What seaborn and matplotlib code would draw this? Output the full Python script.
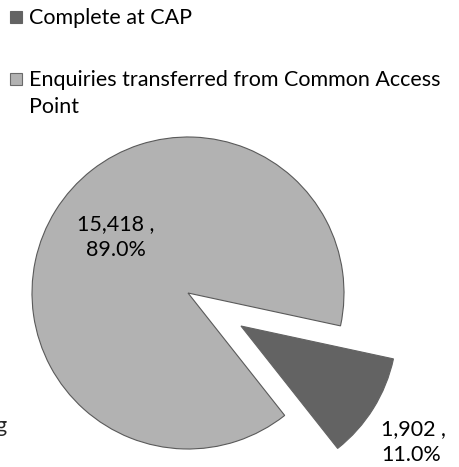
import matplotlib
matplotlib.use("Agg")
import matplotlib.pyplot as plt
from matplotlib.patches import Rectangle
import seaborn as sns

categories = ["Complete at CAP", "Enquiries transferred from Common Access\nPoint"]
counts = [1902, 15418]
shares = [11.0, 89.0]
colors = ["#636363", "#b2b2b2"]

sns.set_theme(style="white")
plt.rcParams['font.family'] = ['Lato', 'DejaVu Sans']

W, H = 459, 467
FS = 15.5
fig = plt.figure(figsize=(W / 100, H / 100), dpi=100)
# pie box in pixels: x 32..344, y 137..449 (from top)
ax = fig.add_axes([32 / W, (H - 449) / H, 312 / W, 312 / H])

wedges, _ = ax.pie(counts, colors=colors, startangle=-51.7, explode=[0.4, 0],
                   wedgeprops=dict(linewidth=0.8, edgecolor="#5a5a5a"))
wedges[0].set_edgecolor(colors[0])
for w in wedges:
    w.set_clip_on(False)
ax.set_xlim(-1, 1)
ax.set_ylim(-1, 1)
ax.set_axis_off()

lab = [f"{c:,} ,\n{s:.1f}%" for c, s in zip(counts, shares)]
ax.text(-0.465, 0.36, lab[1], ha="center", va="center", fontsize=FS,
        linespacing=1.37, color="black")
ax.text(1.237, -0.81, lab[0], ha="left", va="top", fontsize=FS,
        linespacing=1.37, color="black")

# legend drawn by hand: square on the first line, wrapped text below
def px(x, y):
    return x / W, (H - y) / H

for i, (name, col) in enumerate(zip(categories, colors)):
    top = 11 + 62 * i
    x0, y0 = px(10, top + 12)
    edge = col if i == 0 else "#6a6a6a"
    fig.add_artist(Rectangle((x0, y0), 12 / W, 12 / H, transform=fig.transFigure,
                             facecolor=col, edgecolor=edge, linewidth=0.8))
    for j, line in enumerate(name.split("\n")):
        fig.text(*px(29, top + 13 + 27 * j), line, fontsize=FS,
                 ha="left", va="baseline", color="black")

# cut-off text fragment at the left edge
fig.text(-0.01, (H - 432) / H, "g", fontsize=FS, ha="left", va="baseline")

fig.savefig("out.png", dpi=100)
